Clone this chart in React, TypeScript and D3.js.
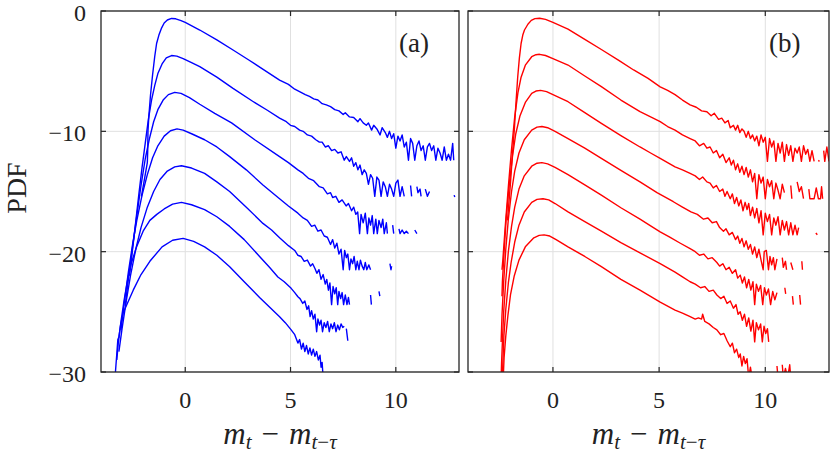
import React from 'react';
import * as d3 from 'd3';

type Pt = [number, number] | null;

// panel (a): seven shifted PDFs (log scale), blue
const a1: Pt[] = [
  [-2.08,-15.4],[-1.93,-13.9],[-1.8,-12.6],[-1.78,-11.5],[-1.77,-10.0],[-1.73,-8.8],[-1.65,-7.0],[-1.55,-5.3],[-1.45,-3.8],[-1.36,-2.7],[-1.25,-2.0],[-1.12,-1.4],[-1.0,-1.0],[-0.85,-0.75],[-0.65,-0.62],[-0.45,-0.65],[-0.2,-0.8],[0,-0.95],[0.69,-1.58],[1.5,-2.4],[2.27,-3.24],[3.0,-4.05],[3.7,-4.85],[4.48,-5.74],
  [4.9,-6.1],[5.2,-6.5],[5.43,-6.7],[5.7,-6.95],[5.9,-7.1],[6.1,-7.3],[6.3,-7.4],[6.5,-7.7],[6.7,-7.8],[6.9,-7.95],[7.1,-8.2],[7.3,-8.3],[7.5,-8.6],[7.6,-8.45],[7.8,-8.8],[8.0,-8.85],[8.2,-9.2],[8.3,-8.95],[8.45,-9.3],[8.6,-9.5],[8.7,-9.3],[8.85,-9.9],[8.95,-9.5],[9.1,-9.8],[9.25,-10.3],[9.35,-9.7],[9.5,-10.1],[9.6,-10.5],[9.7,-10.0],[9.8,-10.6],[9.9,-10.2],[10.0,-11.4],[10.1,-10.4],[10.2,-10.8],[10.3,-10.3],[10.4,-11.3],[10.5,-10.9],[10.6,-12.4],[10.7,-10.6],[10.8,-11.0],[10.9,-12.4],[11.0,-11.2],[11.1,-10.8],[11.2,-11.6],[11.3,-11.2],[11.4,-12.4],[11.5,-11.3],[11.6,-11.0],[11.7,-11.6],[11.8,-11.2],[11.9,-12.4],[12.0,-11.4],[12.1,-11.8],[12.2,-12.4],[12.3,-11.3],[12.4,-12.4],[12.5,-11.9],[12.6,-12.4],[12.7,-11.0],[12.75,-12.4],
];
const a2: Pt[] = [
  [-2.65,-22.0],[-2.5,-19.8],[-2.35,-17.5],[-2.2,-15.2],[-2.05,-13.0],[-1.9,-11.0],[-1.75,-9.0],[-1.6,-7.4],[-1.45,-6.2],[-1.3,-5.2],[-1.1,-4.4],[-0.9,-3.9],[-0.65,-3.7],[-0.4,-3.75],[-0.1,-3.95],[0.3,-4.3],[0.69,-4.63],[1.5,-5.5],[2.27,-6.43],[3.2,-7.5],[3.9,-8.25],[4.48,-8.9],
  [4.8,-9.2],[5.0,-9.5],[5.2,-9.6],[5.43,-9.9],[5.6,-10.0],[5.8,-10.3],[6.0,-10.4],[6.2,-10.7],[6.37,-10.9],[6.5,-10.9],[6.65,-11.3],[6.8,-11.2],[6.95,-11.6],[7.1,-11.5],[7.25,-11.8],[7.4,-11.7],[7.55,-12.4],[7.65,-12.1],[7.8,-12.5],[7.9,-12.2],[8.0,-12.9],[8.1,-12.6],[8.2,-13.2],[8.3,-12.8],[8.4,-13.6],[8.5,-13.2],[8.6,-13.5],[8.7,-14.4],[8.8,-13.6],[8.9,-13.9],[9.0,-15.4],[9.1,-13.8],[9.2,-14.05],[9.3,-15.4],[9.4,-14.2],[9.5,-14.6],[9.6,-15.4],[9.7,-14.4],[9.8,-14.8],[9.9,-15.4],[10.0,-14.3],[10.1,-14.05],[10.2,-15.4],[10.3,-14.6],[10.4,-15.4],
  null,[10.7,-14.5],[10.75,-15.4],null,[11.0,-14.6],[11.05,-15.1],[11.15,-14.8],[11.2,-15.4],null,[11.4,-14.8],[11.5,-15.4],[11.6,-15.0],null,[12.77,-15.3],[12.8,-15.45],
];
const a3: Pt[] = [
  [-2.85,-24.5],[-2.7,-22.3],[-2.5,-19.6],[-2.3,-17.0],[-2.1,-14.5],[-1.9,-12.3],[-1.7,-10.6],[-1.5,-9.2],[-1.3,-8.2],[-1.05,-7.4],[-0.8,-6.95],[-0.5,-6.76],[-0.2,-6.85],[0.2,-7.2],[0.69,-7.75],[1.4,-8.5],[2.2,-9.3],[3.3,-10.7],[4.48,-12.1],
  [4.9,-12.6],[5.35,-13.2],[5.6,-13.5],[5.85,-13.9],[6.1,-14.1],[6.37,-14.6],[6.55,-14.7],[6.75,-15.2],[6.9,-15.1],[7.0,-15.5],[7.15,-15.4],[7.3,-15.9],[7.45,-15.7],[7.64,-16.2],[7.75,-16.0],[7.9,-16.6],[8.0,-16.3],[8.1,-16.9],[8.19,-16.7],[8.28,-18.5],[8.35,-16.9],[8.45,-17.6],[8.55,-16.8],[8.65,-18.5],[8.72,-17.2],[8.8,-17.8],[8.88,-17.0],[8.95,-18.5],[9.05,-17.3],[9.12,-18.5],[9.2,-17.4],[9.3,-18.0],[9.38,-17.3],[9.45,-18.5],[9.55,-17.6],[9.6,-18.5],
  null,[9.85,-17.8],[9.9,-18.5],null,[10.15,-18.1],[10.2,-18.5],[10.3,-18.2],[10.4,-18.5],[10.5,-18.3],[10.6,-18.5],null,[10.9,-18.2],[11.0,-18.5],
];
const a4: Pt[] = [
  [-3.05,-26.5],[-2.9,-24.3],[-2.7,-21.7],[-2.5,-19.4],[-2.3,-17.4],[-2.05,-15.3],[-1.8,-13.6],[-1.55,-12.2],[-1.3,-11.2],[-1.0,-10.4],[-0.7,-9.95],[-0.39,-9.8],[-0.1,-9.9],[0.3,-10.2],[0.92,-10.7],[1.5,-11.3],[2.11,-12.1],[2.9,-13.2],[3.69,-14.46],[4.48,-15.6],
  [4.9,-16.2],[5.35,-16.8],[5.6,-17.2],[5.8,-17.4],[6.0,-17.9],[6.15,-17.8],[6.3,-18.3],[6.45,-18.2],[6.6,-18.7],[6.75,-18.8],[6.9,-19.4],[7.0,-19.0],[7.1,-19.7],[7.2,-19.3],[7.3,-20.2],[7.4,-19.8],[7.5,-21.5],[7.57,-19.9],[7.65,-20.5],[7.72,-20.2],[7.8,-21.5],[7.87,-20.6],[7.95,-21.0],[8.02,-20.4],[8.1,-21.5],[8.17,-20.8],[8.25,-21.5],[8.32,-20.7],[8.4,-21.2],[8.48,-21.5],[8.55,-20.9],[8.62,-21.5],[8.72,-21.1],[8.8,-21.5],
  null,[9.72,-21.0],[9.77,-21.5],[9.8,-21.2],
];
const a5: Pt[] = [
  [-3.15,-28.3],[-3.0,-26.4],[-2.8,-24.1],[-2.6,-22.0],[-2.35,-19.8],[-2.1,-18.0],[-1.8,-16.3],[-1.5,-15.0],[-1.2,-14.0],[-0.85,-13.3],[-0.5,-12.95],[-0.18,-12.86],[0.3,-13.05],[0.92,-13.5],[1.5,-14.2],[2.11,-15.0],[2.9,-16.3],[3.69,-17.65],[4.1,-18.2],[4.48,-18.85],
  [4.9,-19.5],[5.2,-19.9],[5.35,-20.3],[5.5,-20.4],[5.65,-20.8],[5.8,-20.7],[5.95,-21.2],[6.05,-21.0],[6.16,-21.4],[6.25,-21.8],[6.35,-21.5],[6.45,-22.3],[6.55,-21.9],[6.65,-22.7],[6.72,-22.3],[6.8,-23.2],[6.87,-22.6],[6.95,-24.4],[7.02,-22.9],[7.1,-23.5],[7.17,-23.0],[7.24,-24.4],[7.3,-23.3],[7.38,-23.9],[7.45,-23.4],[7.52,-24.4],[7.6,-23.6],[7.68,-24.4],[7.75,-23.8],[7.8,-24.4],
  null,[8.8,-23.6],[8.84,-24.4],null,[9.2,-23.3],[9.24,-23.7],
];
const a6: Pt[] = [
  [-3.25,-29.0],[-3.18,-27.6],[-3.05,-25.8],[-2.9,-24.0],[-2.71,-22.1],[-2.55,-20.9],[-2.31,-19.6],[-2.0,-18.3],[-1.68,-17.4],[-1.35,-16.9],[-1.0,-16.45],[-0.6,-16.05],[-0.18,-15.9],[0.3,-16.1],[0.92,-16.5],[1.5,-17.1],[2.11,-17.9],[2.8,-19.0],[3.53,-20.4],[4.0,-21.3],[4.4,-22.1],
  [4.7,-22.5],[5.03,-23.05],[5.2,-23.4],[5.35,-23.75],[5.45,-23.9],[5.58,-24.3],[5.68,-24.1],[5.78,-24.8],[5.86,-24.5],[5.93,-25.4],[6.0,-24.9],[6.08,-25.6],[6.16,-25.2],[6.24,-26.65],[6.3,-25.6],[6.38,-26.1],[6.45,-25.7],[6.52,-26.65],[6.6,-25.9],[6.68,-26.3],[6.76,-25.8],[6.84,-26.65],[6.92,-26.0],[7.0,-26.4],[7.08,-25.9],[7.16,-26.65],[7.24,-26.1],[7.32,-26.5],[7.4,-26.0],[7.48,-26.3],[7.55,-26.2],
  null,[7.65,-26.4],[7.72,-27.4],
];
const a7: Pt[] = [
  [-3.33,-31],[-3.31,-29.9],[-3.25,-28.5],[-3.2,-27.3],[-3.15,-27.1],[-3.08,-26.2],[-2.95,-25.1],[-2.75,-24.3],[-2.47,-23.2],[-2.1,-21.9],[-1.68,-20.8],[-1.1,-19.6],[-0.6,-19.05],[-0.1,-18.9],[0.4,-19.15],[0.92,-19.6],[1.5,-20.3],[2.11,-21.25],[2.8,-22.5],[3.53,-23.8],[4.0,-24.6],[4.48,-25.4],
  [4.75,-25.9],[5.03,-26.5],[5.2,-26.9],[5.35,-27.6],[5.43,-27.3],[5.52,-28.1],[5.6,-27.6],[5.68,-28.3],[5.76,-27.8],[5.84,-28.5],[5.92,-28.0],[6.0,-28.6],[6.08,-28.1],[6.16,-28.7],[6.24,-28.3],[6.32,-29.0],[6.4,-28.6],[6.45,-29.6],[6.5,-29.2],[6.55,-30.5],
];

// panel (b): seven shifted PDFs (log scale), red
const b1: Pt[] = [
  [-2.14,-17.4],[-2.0,-14.3],[-1.91,-12.0],[-1.82,-9.9],[-1.74,-7.6],[-1.66,-5.5],[-1.58,-3.9],[-1.5,-2.7],[-1.42,-2.0],[-1.34,-1.58],[-1.18,-1.1],[-1.02,-0.78],[-0.85,-0.63],[-0.63,-0.6],[-0.35,-0.7],[0,-0.95],[0.71,-1.5],[1.5,-2.35],[2.28,-3.2],[3.1,-4.1],[3.8,-4.9],[4.48,-5.6],
  [5.05,-6.3],[5.4,-6.6],[5.75,-6.95],[6.1,-7.4],[6.46,-7.8],[6.75,-8.0],[7.0,-8.3],[7.25,-8.37],[7.45,-8.7],[7.6,-8.5],[7.8,-9.0],[7.95,-8.9],[8.1,-9.3],[8.25,-9.1],[8.35,-9.7],[8.5,-9.5],[8.6,-9.9],[8.7,-9.5],[8.8,-10.1],[8.9,-9.8],[9.0,-10.0],[9.1,-10.5],[9.2,-10.0],[9.3,-10.6],[9.4,-10.3],[9.5,-10.8],[9.6,-10.4],[9.7,-11.2],[9.8,-10.3],[9.9,-10.9],[10.0,-10.5],[10.1,-12.5],[10.2,-10.6],[10.3,-11.3],[10.4,-10.8],[10.5,-12.5],[10.6,-11.0],[10.7,-11.8],[10.8,-10.9],[10.9,-12.5],[11.0,-11.1],[11.1,-12.0],[11.2,-11.2],[11.3,-12.5],[11.4,-11.4],[11.5,-11.8],[11.6,-11.3],[11.7,-12.5],[11.8,-11.2],[11.9,-11.9],[12.0,-11.5],[12.1,-12.5],[12.2,-11.6],[12.3,-12.5],
  null,[12.5,-12.4],[12.55,-12.5],null,[12.75,-11.6],[12.8,-12.5],[12.9,-11.3],[13.0,-12.5],
];
const b2: Pt[] = [
  [-2.4,-21.5],[-2.36,-20.7],[-2.25,-18.0],[-2.1,-14.6],[-1.95,-11.5],[-1.8,-8.8],[-1.65,-6.8],[-1.5,-5.5],[-1.3,-4.5],[-1.0,-3.8],[-0.8,-3.63],[-0.63,-3.6],[-0.35,-3.7],[0,-3.95],[0.71,-4.49],[1.5,-5.4],[2.28,-6.29],[3.2,-7.4],[4.1,-8.37],
  [4.6,-8.8],[5.05,-9.2],[5.4,-9.6],[5.75,-9.9],[6.1,-10.3],[6.46,-10.6],[6.7,-10.8],[6.9,-11.2],[7.1,-11.0],[7.25,-11.4],[7.4,-11.3],[7.55,-11.8],[7.7,-11.6],[7.85,-12.2],[8.0,-11.9],[8.15,-12.6],[8.3,-12.2],[8.4,-12.8],[8.5,-12.4],[8.6,-13.2],[8.7,-12.7],[8.8,-13.4],[8.9,-12.9],[9.0,-13.6],[9.1,-13.0],[9.2,-13.8],[9.3,-13.2],[9.4,-14.2],[9.5,-13.5],[9.6,-15.6],[9.7,-13.6],[9.8,-14.3],[9.9,-13.8],[10.0,-15.6],[10.1,-14.0],[10.2,-14.6],[10.3,-14.1],[10.4,-15.6],[10.5,-14.3],[10.6,-14.9],[10.7,-15.6],[10.8,-14.4],[10.9,-15.1],
  null,[11.2,-14.5],[11.25,-15.6],null,[11.5,-14.2],[11.6,-15.0],[11.7,-14.6],[11.8,-15.6],null,[12.05,-14.8],[12.1,-15.6],[12.3,-15.6],[12.4,-14.7],[12.5,-15.6],[12.6,-15.6],[12.65,-14.6],[12.7,-15.6],
];
const b3: Pt[] = [
  [-2.4,-23.7],[-2.38,-22.5],[-2.3,-20.0],[-2.2,-17.2],[-2.05,-14.3],[-1.9,-12.0],[-1.75,-10.2],[-1.55,-8.7],[-1.3,-7.6],[-1.0,-6.85],[-0.8,-6.65],[-0.58,-6.6],[-0.3,-6.7],[0,-6.95],[0.71,-7.54],[1.5,-8.45],[2.28,-9.34],[3.2,-10.35],[4.1,-11.3],
  [4.6,-11.8],[5.05,-12.25],[5.4,-12.6],[5.75,-12.95],[6.1,-13.2],[6.46,-13.5],[6.7,-13.7],[6.9,-14.0],[7.05,-13.8],[7.25,-14.2],[7.4,-14.3],[7.55,-14.7],[7.7,-14.5],[7.85,-15.0],[8.0,-14.8],[8.1,-15.4],[8.2,-15.0],[8.35,-15.6],[8.45,-15.2],[8.55,-16.0],[8.65,-15.5],[8.75,-16.2],[8.85,-15.7],[8.95,-16.6],[9.05,-15.9],[9.14,-16.5],[9.22,-16.0],[9.3,-17.0],[9.4,-16.3],[9.5,-17.2],[9.6,-16.4],[9.7,-17.6],[9.8,-16.6],[9.9,-18.6],[10.0,-16.8],[10.1,-17.5],[10.2,-16.9],[10.3,-18.6],[10.4,-17.2],[10.5,-17.8],[10.6,-17.1],[10.7,-18.6],[10.8,-17.4],[10.9,-18.2],[11.0,-17.5],[11.1,-18.6],[11.2,-17.6],[11.3,-18.6],[11.4,-17.8],[11.5,-18.6],[11.57,-18.0],
  null,[12.38,-18.45],[12.45,-18.6],
];
const b4: Pt[] = [
  [-2.44,-27.5],[-2.4,-25.3],[-2.32,-22.5],[-2.22,-19.8],[-2.1,-17.3],[-1.95,-15.0],[-1.8,-13.3],[-1.6,-11.8],[-1.35,-10.7],[-1.0,-9.9],[-0.75,-9.65],[-0.52,-9.6],[-0.25,-9.7],[0.1,-10.0],[0.71,-10.6],[1.5,-11.4],[2.28,-12.25],[3.2,-13.25],[4.1,-14.2],[4.9,-15.1],[5.67,-15.85],
  [6.1,-16.3],[6.5,-16.7],[6.8,-16.9],[7.09,-17.3],[7.3,-17.2],[7.5,-17.6],[7.7,-17.5],[7.85,-18.0],[8.03,-18.3],[8.15,-18.1],[8.3,-18.6],[8.45,-18.4],[8.6,-19.0],[8.7,-18.7],[8.8,-19.3],[8.9,-18.9],[9.0,-19.6],[9.1,-19.1],[9.2,-19.8],[9.3,-19.4],[9.4,-20.2],[9.5,-19.6],[9.6,-20.5],[9.7,-19.8],[9.8,-20.7],[9.9,-21.5],[9.95,-20.0],[10.05,-19.9],[10.15,-21.5],[10.22,-20.4],[10.3,-21.1],[10.38,-20.5],[10.45,-21.5],[10.55,-20.6],
  null,[10.8,-20.5],[10.85,-21.3],[10.95,-20.8],[11.0,-21.5],null,[11.2,-20.9],[11.3,-21.5],null,[11.72,-20.8],[11.75,-21.5],
];
const b5: Pt[] = [
  [-2.44,-30.5],[-2.42,-29.3],[-2.38,-27.5],[-2.32,-25.0],[-2.22,-22.4],[-2.1,-20.0],[-1.95,-17.9],[-1.8,-16.3],[-1.6,-14.8],[-1.35,-13.7],[-1.0,-12.9],[-0.75,-12.65],[-0.52,-12.6],[-0.25,-12.7],[0.1,-13.0],[0.71,-13.6],[1.5,-14.45],[2.28,-15.3],[3.2,-16.35],[4.1,-17.3],[4.6,-17.85],[5.05,-18.35],[5.5,-18.8],[6.0,-19.3],[6.46,-19.75],
  [6.7,-20.0],[6.9,-20.3],[7.1,-20.2],[7.3,-20.6],[7.5,-20.5],[7.72,-20.9],[7.85,-21.2],[8.0,-21.0],[8.15,-21.5],[8.3,-21.3],[8.45,-21.8],[8.6,-21.5],[8.7,-22.2],[8.82,-21.95],[8.92,-22.6],[9.02,-22.1],[9.12,-23.0],[9.22,-22.3],[9.32,-23.2],[9.42,-22.5],[9.5,-24.4],[9.58,-22.7],[9.68,-23.3],[9.78,-22.8],[9.88,-24.4],[9.96,-23.0],[10.05,-23.6],[10.15,-23.1],[10.25,-24.4],[10.35,-23.3],[10.45,-24.0],[10.55,-23.4],
  null,[10.92,-23.0],[10.96,-23.5],null,[11.28,-23.7],[11.32,-24.4],null,[11.62,-23.6],[11.66,-24.4],
];
const b6: Pt[] = [
  [-2.38,-30.5],[-2.36,-29.3],[-2.31,-27.0],[-2.22,-24.8],[-2.1,-22.6],[-1.97,-20.9],[-1.8,-19.2],[-1.6,-17.8],[-1.35,-16.7],[-1.0,-15.9],[-0.75,-15.65],[-0.47,-15.6],[-0.2,-15.7],[0.1,-16.0],[0.71,-16.7],[1.5,-17.5],[2.28,-18.3],[3.2,-19.25],[4.1,-20.1],[5.05,-21.0],[5.75,-21.7],
  [6.1,-22.1],[6.46,-22.5],[6.7,-22.7],[6.95,-23.0],[7.15,-22.9],[7.35,-23.3],[7.55,-23.2],[7.72,-23.6],[7.9,-23.9],[8.05,-23.7],[8.2,-24.3],[8.35,-24.1],[8.5,-24.7],[8.62,-24.4],[8.72,-25.2],[8.82,-25.0],[8.92,-25.7],[9.02,-25.2],[9.12,-26.2],[9.22,-25.5],[9.32,-26.6],[9.42,-25.7],[9.5,-27.5],[9.58,-25.9],[9.68,-26.5],[9.78,-26.0],[9.86,-27.5],[9.94,-26.2],[10.02,-26.8],[10.1,-26.4],[10.16,-27.5],
];
const b7: Pt[] = [
  [-2.34,-30.5],[-2.3,-28.8],[-2.22,-27.0],[-2.12,-25.3],[-2.0,-23.6],[-1.82,-22.0],[-1.6,-20.7],[-1.3,-19.6],[-0.9,-18.85],[-0.65,-18.65],[-0.42,-18.6],[-0.15,-18.7],[0.15,-19.0],[0.71,-19.6],[1.5,-20.4],[2.28,-21.25],[3.2,-22.3],[4.1,-23.2],[5.05,-24.2],[5.75,-24.85],[6.1,-25.1],[6.46,-25.4],
  [6.7,-25.6],[6.85,-25.5],[7.0,-25.6],[7.05,-25.2],[7.15,-25.8],[7.35,-26.0],[7.55,-26.3],[7.72,-26.5],[7.9,-26.9],[8.05,-26.8],[8.2,-27.4],[8.35,-27.9],[8.45,-27.6],[8.55,-28.4],[8.65,-28.1],[8.75,-28.8],[8.82,-28.5],[8.9,-29.5],[8.98,-28.7],[9.06,-29.3],[9.14,-28.9],[9.22,-30.5],[9.3,-29.6],[9.38,-30.5],
  null,[10.55,-29.5],[10.6,-30.5],null,[10.8,-29.4],[10.85,-30.5],[10.95,-29.7],[11.05,-30.5],[11.15,-29.4],[11.2,-30.5],
];

const xTicks = [0, 5, 10];
const yTicks = [0, -10, -20, -30];
const xDomain: [number, number] = [-4, 13];
const yDomain: [number, number] = [-30, 0];
const panelTags = ['(a)', '(b)'];
const panelColors = ['#0000ff', '#ff0000'];
const yLabel = 'PDF';

const W = 830, H = 455;
const top = 11, bottom = 372;
const frames = [[101, 459], [468, 829]];
const axisColor = '#262626';
const gridColor = '#e0e0e0';
const serif = "'Liberation Serif', 'Times New Roman', serif";

function Panel({ idx, curves, showY }: { idx: number; curves: Pt[][]; showY: boolean }) {
  const [left, right] = frames[idx];
  const x = d3.scaleLinear().domain(xDomain).range([left, right]);
  const y = d3.scaleLinear().domain(yDomain).range([bottom, top]);
  const line = d3.line<Pt>()
    .defined(d => d !== null)
    .x(d => x(d![0]))
    .y(d => y(d![1]));
  const clipId = `clip-${idx}`;
  const tickLen = 5;
  const cx = (left + right) / 2;

  return (
    <g>
      <defs>
        <clipPath id={clipId}>
          <rect x={left} y={top} width={right - left} height={bottom - top} />
        </clipPath>
      </defs>
      {/* grid */}
      {xTicks.map(t => (
        <line key={'gx' + t} x1={x(t)} x2={x(t)} y1={top} y2={bottom} stroke={gridColor} strokeWidth={1} />
      ))}
      {yTicks.map(t => (
        <line key={'gy' + t} x1={left} x2={right} y1={y(t)} y2={y(t)} stroke={gridColor} strokeWidth={1} />
      ))}
      {/* curves */}
      <g clipPath={`url(#${clipId})`}>
        {curves.map((c, i) => (
          <path key={i} d={line(c) || ''} fill="none" stroke={panelColors[idx]}
            strokeWidth={1.4} strokeLinejoin="round" strokeLinecap="butt" />
        ))}
      </g>
      {/* box and inward ticks */}
      <rect x={left} y={top} width={right - left} height={bottom - top}
        fill="none" stroke={axisColor} strokeWidth={1.3} />
      {xTicks.map(t => (
        <g key={'tx' + t} stroke={axisColor} strokeWidth={1.2}>
          <line x1={x(t)} x2={x(t)} y1={bottom} y2={bottom - tickLen} />
          <line x1={x(t)} x2={x(t)} y1={top} y2={top + tickLen} />
        </g>
      ))}
      {yTicks.map(t => (
        <g key={'ty' + t} stroke={axisColor} strokeWidth={1.2}>
          <line x1={left} x2={left + tickLen} y1={y(t)} y2={y(t)} />
          <line x1={right} x2={right - tickLen} y1={y(t)} y2={y(t)} />
        </g>
      ))}
      {/* tick labels */}
      {xTicks.map(t => (
        <text key={'lx' + t} x={x(t)} y={408} textAnchor="middle" fontFamily={serif} fontSize={24} fill="#222">
          {t}
        </text>
      ))}
      {showY && yTicks.map(t => (
        <text key={'ly' + t} x={left - 15} y={y(t) + 1.5} dy="0.35em" textAnchor="end" fontFamily={serif} fontSize={24} fill="#222">
          {t < 0 ? '\u2212' + Math.abs(t) : String(t)}
        </text>
      ))}
      {/* panel tag */}
      <text x={right - 60} y={52} fontFamily={serif} fontSize={27} fill="#222">{panelTags[idx]}</text>
      {/* x label: m_t - m_{t-tau} */}
      <text x={cx} y={444} textAnchor="middle" fontFamily={serif} fontSize={31} fill="#222">
        <tspan fontStyle="italic">m</tspan>
        <tspan fontStyle="italic" fontSize={21} dy={5}>t</tspan>
        <tspan dy={-5} dx={10}>{'\u2212'}</tspan>
        <tspan fontStyle="italic" dx={10}>m</tspan>
        <tspan fontSize={21} dy={5}>
          <tspan fontStyle="italic">t</tspan>{'\u2212'}<tspan fontStyle="italic">{'\u03c4'}</tspan>
        </tspan>
      </text>
    </g>
  );
}

export default function App() {
  return (
    <svg width={W} height={H} viewBox={`0 0 ${W} ${H}`}
      style={{ position: 'absolute', left: 0, top: 0, background: '#fff' }}>
      <rect x={0} y={0} width={W} height={H} fill="#fff" />
      <Panel idx={0} curves={[a1, a2, a3, a4, a5, a6, a7]} showY={true} />
      <Panel idx={1} curves={[b1, b2, b3, b4, b5, b6, b7]} showY={false} />
      <text transform={`translate(26, 188) rotate(-90)`} textAnchor="middle"
        fontFamily={serif} fontSize={28} fill="#222">{yLabel}</text>
    </svg>
  );
}
